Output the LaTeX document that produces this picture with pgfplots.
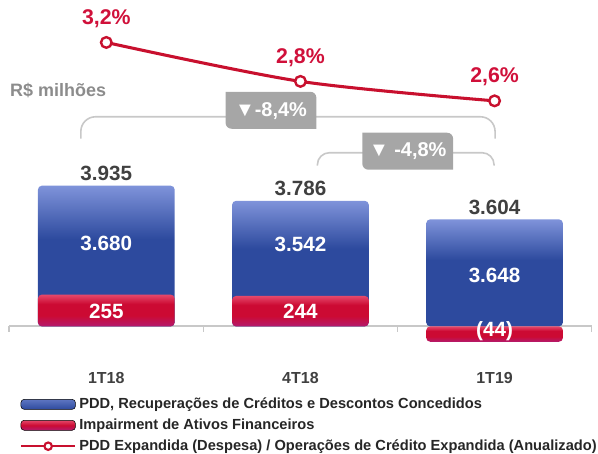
\documentclass[border=0pt]{standalone}
\usepackage{fontspec}
\setmainfont{Liberation Sans}
\usepackage{pgfplots}
\pgfplotsset{compat=1.18}

\definecolor{pddblue}{HTML}{2D4A9E}
\definecolor{pddbluelight}{HTML}{7F93DA}
\definecolor{impred}{HTML}{CC0A33}
\definecolor{impredlight}{HTML}{E5486A}
\definecolor{impmag}{HTML}{B31A6E}
\definecolor{linered}{HTML}{C8102E}
\definecolor{pctred}{HTML}{D0103A}
\definecolor{bracketgray}{HTML}{C8C8C8}
\definecolor{boxgray}{HTML}{A6A6A6}
\definecolor{unitgray}{HTML}{8C8C8C}
\definecolor{valgray}{HTML}{404040}
\definecolor{legtext}{HTML}{262626}

% tikz maps the path onto 25bp..75bp of a shading
\pgfdeclareverticalshading{bluebar}{100bp}{color(0bp)=(pddblue); color(25bp)=(pddblue); color(56bp)=(pddblue); color(75bp)=(pddbluelight); color(100bp)=(pddbluelight)}
\pgfdeclareverticalshading{redbar}{100bp}{color(0bp)=(impmag); color(25bp)=(impmag); color(42bp)=(impred); color(60bp)=(impred); color(75bp)=(impredlight); color(100bp)=(impredlight)}

\pgfplotsset{
  bluebar/.style={bar shift=0pt, draw=none, shade, shading=bluebar, rounded corners=3pt,
    nodes near coords, point meta=explicit symbolic,
    every node near coord/.append style={font=\bfseries\fontsize{15.5}{16}\selectfont, text=valgray}},
  redbar/.style={bar shift=0pt, draw=none, shade, shading=redbar, rounded corners=3pt},
}

\begin{document}
\begin{tikzpicture}
\begin{scope}[x=0.75pt,y=-0.75pt]
\useasboundingbox (0,0) rectangle (598,454);
\end{scope}

% bars: broken value axis, as on the slide
\begin{axis}[
  at={(6.94pt,-245.25pt)}, anchor=south west,
  scale only axis, width=437.625pt, height=112.5pt,
  xmin=-0.5, xmax=2.5,
  ymin=0, ymax=4023.6,
  y coord trafo/.code={\pgfmathparse{#1<0 ? 0.35*#1 : (#1<300 ? 0.125*#1 : (#1<3000 ? 37.5 : 45.7+0.1019*(#1-3000)))}},
  axis x line=bottom, axis y line=none,
  axis line style={-, draw=bracketgray, line width=1.5pt},
  xtick={0,1,2}, xticklabels={1T18,4T18,1T19},
  major tick length=0pt,
  minor xtick={-0.5,0.5,1.5,2.5},
  minor tick length=4pt, xtick align=outside,
  minor tick style={draw=bracketgray, line width=1.2pt},
  xticklabel style={font=\bfseries\fontsize{12}{12}\selectfont, text=valgray, yshift=-31pt},
  ytick=\empty,
  clip=false,
  ybar, bar width=102.75pt,
]
% totals (blue reaches the total, impairment drawn over its base)
\addplot[bluebar] coordinates {(0,3935) [3.935]};
\addplot[bluebar] coordinates {(1,3786) [3.786]};
\addplot[bluebar] coordinates {(2,3604) [3.604]};
\addplot[redbar] coordinates {(0,255)};
\addplot[redbar] coordinates {(1,244)};
\addplot[redbar] coordinates {(2,-44)};
\end{axis}

% ratio line
\begin{axis}[
  at={(6.94pt,-97.5pt)}, anchor=south west,
  scale only axis, width=437.625pt, height=97.5pt,
  xmin=-0.5, xmax=2.5, ymin=2.303, ymax=3.636,
  axis lines=none, clip=false,
  legend style={at={(0.0175,-2.055)}, anchor=north west, draw=none, fill=none,
    font=\bfseries\fontsize{11}{12}\selectfont, text=legtext,
    inner sep=0pt, row sep=4.2pt, column sep=1pt,
    nodes={inner sep=1pt}},
  legend cell align=left,
]
\addlegendimage{legend image code/.code={\shade[rounded corners=2.5pt, top color=pddbluelight!60!pddblue, bottom color=pddblue] (0pt,-3.75pt) rectangle (41pt,3.75pt);}}
\addlegendentry{PDD, Recuperações de Créditos e Descontos Concedidos}
\addlegendimage{legend image code/.code={\shade[rounded corners=2.5pt, top color=impredlight, bottom color=impmag, middle color=impred] (0pt,-3.75pt) rectangle (41pt,3.75pt);}}
\addlegendentry{Impairment de Ativos Financeiros}
\addplot[linered, line width=2.3pt, smooth, tension=0.5,
  mark=*, mark size=4pt, mark options={fill=white, line width=1.8pt},
  nodes near coords, point meta=explicit symbolic,
  every node near coord/.append style={font=\bfseries\fontsize{16}{16}\selectfont, text=pctred, yshift=7pt},
  legend image code/.code={\draw[linered, line width=1.8pt] (0pt,0pt) -- (41pt,0pt);
    \draw[linered, line width=1.6pt, fill=white] (20.5pt,0pt) circle (2.8pt);}]
  coordinates {(0,3.2) [3,2\%] (1,2.8) [2,8\%] (2,2.6) [2,6\%]};
\addlegendentry{PDD Expandida (Despesa) / Operações de Crédito Expandida (Anualizado)}
\end{axis}

\begin{scope}[x=0.75pt,y=-0.75pt]
% variation brackets
\draw[bracketgray, line width=1.2pt, rounded corners=11pt] (81,139) |- (496,117) -- (496,139);
\draw[bracketgray, line width=1.2pt, rounded corners=9pt] (318,166) |- (495,153) -- (495,166);
\fill[boxgray] (226,92) -- (311,92) .. controls (314.3,92) and (317,94.7) .. (317,98) -- (317,129)
  -- (232,129) .. controls (228.7,129) and (226,126.3) .. (226,123) -- cycle;
\fill[boxgray] (363,133) -- (448,133) .. controls (451.3,133) and (454,135.7) .. (454,139) -- (454,170)
  -- (369,170) .. controls (365.7,170) and (363,167.3) .. (363,164) -- cycle;
\node[text=white, font=\bfseries\fontsize{15}{15}\selectfont] at (271.5,111) {▼-8,4\%};
\node[text=white, font=\bfseries\fontsize{15}{15}\selectfont] at (408.5,151.5) {▼ -4,8\%};
% unit
\node[anchor=west, inner sep=0pt, text=unitgray, font=\bfseries\fontsize{13.5}{14}\selectfont] at (10,91) {R\$ milhões};
% values inside the bars
\begin{scope}[every node/.style={text=white, font=\bfseries\fontsize{15.5}{16}\selectfont}]
\node at (106.5,244) {3.680};
\node at (301,245) {3.542};
\node at (495.5,276) {3.648};
\node at (106.5,312) {255};
\node at (301,312) {244};
\node at (495.5,332) {(44)};
\end{scope}
\end{scope}
\end{tikzpicture}
\end{document}
